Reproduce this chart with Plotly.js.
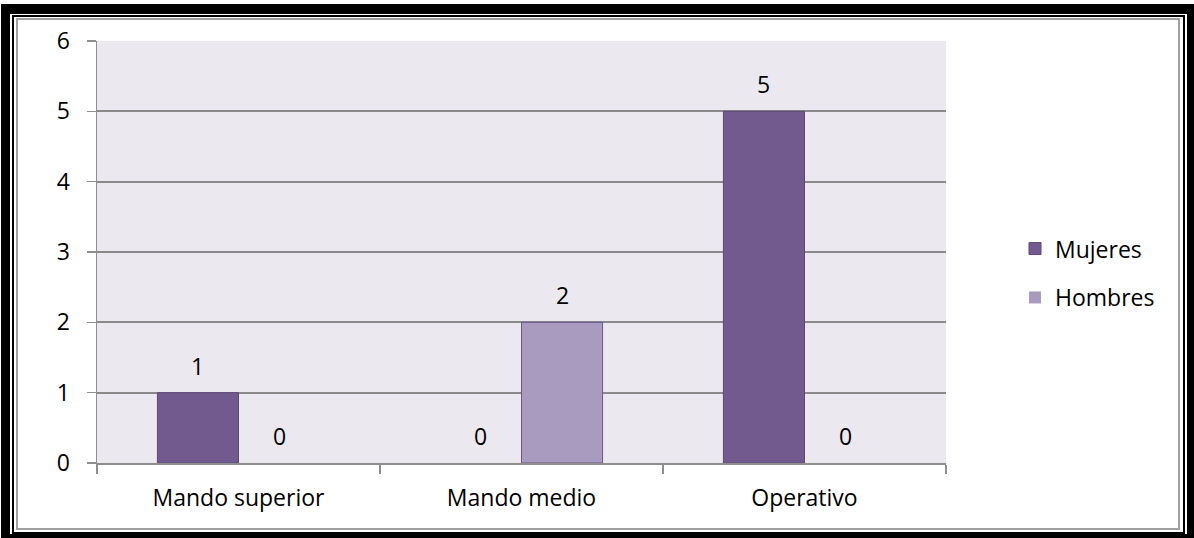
<!DOCTYPE html>
<html>
<head>
<meta charset="utf-8">
<script src="https://cdn.plot.ly/plotly-3.0.1.min.js"></script>
<style>
  html, body { margin: 0; padding: 0; background: #ffffff; }
  #wrap { position: relative; width: 1194px; height: 538px; overflow: hidden; }
  .frame { position: absolute; box-sizing: border-box; }
  #outer { left: 1px; top: 4px; width: 1193px; height: 534px; border-style: solid; border-color: #000; border-width: 10px 7px 4px 9px; }
  #thin { left: 12px; top: 15px; width: 1173px; height: 519px; border: 2px solid #000; }
  #gray { left: 16px; top: 18px; width: 1164px; height: 512px; border: 2px solid #a0a0a0; }
  #chart { position: absolute; left: 0; top: 0; width: 1194px; height: 538px; }
</style>
</head>
<body>
<div id="wrap">
  <div class="frame" id="outer"></div>
  <div class="frame" id="thin"></div>
  <div class="frame" id="gray"></div>
  <div id="chart"></div>
</div>
<script>
const categories = ["Mando superior", "Mando medio", "Operativo"];
const mujeres = [1, 0, 5];
const hombres = [0, 2, 0];
const seriesNames = ["Mujeres", "Hombres"];
const yTicks = [0, 1, 2, 3, 4, 5, 6];

const FONT = "Open Sans, Noto Sans, sans-serif";
const FS = 23;
const W = 1194, H = 538;
const margin = { l: 97, r: 248, t: 41, b: 75, pad: 0 };
const bargap = 0.427;

const traces = [
  {
    type: "bar", name: seriesNames[0], x: categories, y: mujeres,
    marker: { color: "#725A8E", line: { color: "#5E4879", width: mujeres.map(v => v ? 1 : 0) } },
    legendgroup: "m"
  },
  {
    type: "bar", name: seriesNames[1], x: categories, y: hombres,
    marker: { color: "#A99ABF", line: { color: "#6C5689", width: hombres.map(v => v ? 1 : 0) } },
    legendgroup: "h"
  }
];

// value labels above each bar, offset by half a bar width (computed from the layout)
const plotW = W - margin.l - margin.r;
const catW = plotW / categories.length;
const barW = catW * (1 - bargap) / 2;
const annotations = [];
[mujeres, hombres].forEach((vals, si) => {
  vals.forEach((v, i) => {
    annotations.push({
      x: categories[i], y: v, xref: "x", yref: "y",
      text: String(v), showarrow: false,
      xshift: (si === 0 ? -1 : 1) * barW / 2,
      yshift: 27, yanchor: "middle", xanchor: "center",
      font: { family: FONT, size: FS, color: "#000" }
    });
  });
});

const layout = {
  width: W, height: H,
  margin: margin,
  paper_bgcolor: "rgba(0,0,0,0)",
  plot_bgcolor: "#EBE9EF",
  barmode: "group",
  bargap: bargap,
  bargroupgap: 0,
  font: { family: FONT, size: FS, color: "#000" },
  showlegend: true,
  legend: {
    x: 1015 / W, xref: "container", xanchor: "left",
    y: 0.45, yanchor: "middle",
    traceorder: "grouped", tracegroupgap: 16,
    font: { family: FONT, size: FS, color: "#000" },
    bgcolor: "rgba(0,0,0,0)"
  },
  xaxis: {
    type: "category",
    tickson: "boundaries",
    ticks: "outside", ticklen: 9, tickwidth: 1.5, tickcolor: "#8E8E8E",
    showline: true, linecolor: "#8E8E8E", linewidth: 1.5,
    showgrid: false, zeroline: false,
    ticklabelstandoff: 14,
    tickfont: { family: FONT, size: FS, color: "#000" }
  },
  yaxis: {
    range: [0, 6],
    tickmode: "array", tickvals: yTicks, ticktext: yTicks.map(String),
    ticks: "outside", ticklen: 9, tickwidth: 1.5, tickcolor: "#8E8E8E",
    showline: true, linecolor: "#8E8E8E", linewidth: 1.5,
    showgrid: true, gridcolor: "#8A8A8A", gridwidth: 1.7,
    zeroline: false,
    ticklabelstandoff: 12,
    tickfont: { family: FONT, size: FS, color: "#000" }
  },
  annotations: annotations
};

Plotly.newPlot("chart", traces, layout, { displayModeBar: false, staticPlot: true });
</script>
</body>
</html>
